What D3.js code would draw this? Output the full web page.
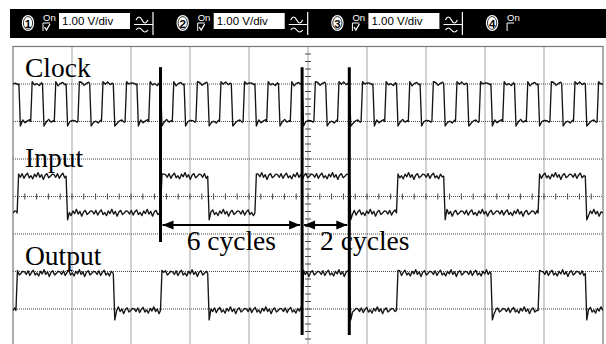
<!DOCTYPE html>
<html>
<head>
<meta charset="utf-8">
<script src="https://cdn.jsdelivr.net/npm/d3@7"></script>
<style>
  body { margin: 0; background: #fff; }
  svg { display: block; }
</style>
</head>
<body>
<svg id="scope" width="606" height="344"></svg>
<script>
// channel header
var channels = ["1", "2", "3", "4"];
var channelScale = ["1.00 V/div", "1.00 V/div", "1.00 V/div", null];

// edges in divisions (10 div across), levels in volts (screen position, 1 V/div)
var clockEdges = [0.1, 0.3, 0.5, 0.7, 0.9, 1.1, 1.3, 1.5, 1.7, 1.9, 2.1, 2.3, 2.5, 2.7, 2.9,
  3.1, 3.3, 3.5, 3.7, 3.9, 4.1, 4.3, 4.5, 4.7, 4.9, 5.1, 5.3, 5.5, 5.7, 5.9, 6.1, 6.3,
  6.5, 6.7, 6.9, 7.1, 7.3, 7.5, 7.7, 7.9, 8.1, 8.3, 8.5, 8.7, 8.9, 9.1, 9.3, 9.5, 9.7, 9.9];
var inputEdges = [0.07, 0.9, 2.5, 3.3, 4.1, 5.7, 6.5, 7.3, 8.9, 9.7];
var outputEdges = [0.05, 1.7, 2.5, 3.3, 4.9, 5.7, 6.5, 8.1, 8.9, 9.7];
var clockLevels = [2.0, 3.0];
var inputLevels = [-0.44, 0.54];
var outputLevels = [-3.04, -2.05];
// ripple on the flat parts (volts)
var ripple = [0.03, -0.02, 0.05, -0.04, 0.02, 0.06, -0.03, 0.01, -0.05, 0.04,
  -0.01, 0.07, -0.02, 0.03, -0.06, 0.02, 0.05, -0.03, 0.0, 0.04];

var labels = ["Clock", "Input", "Output"];
var markers = [2.5, 4.9, 5.7];
var spans = [{from: 2.5, to: 4.9, text: "6 cycles"}, {from: 4.9, to: 5.7, text: "2 cycles"}];

var svg = d3.select("#scope");
var x = d3.scaleLinear().domain([0, 10]).range([13, 603]);
var y = d3.scaleLinear().domain([-4, 4]).range([346.5, 46.5]);

// ---- header bar
svg.append("rect").attr("x", 10).attr("y", 9).attr("width", 596).attr("height", 29).attr("fill", "#000");

var head = svg.selectAll("g.ch").data(channels).enter().append("g")
  .attr("class", "ch")
  .attr("transform", function(d, i) { return "translate(" + (22 + i * 154.7) + ",0)"; });

head.append("ellipse").attr("cx", 6).attr("cy", 23).attr("rx", 6.2).attr("ry", 8).attr("fill", "#fff");
head.append("ellipse").attr("cx", 6).attr("cy", 23).attr("rx", 4.6).attr("ry", 6.4)
  .attr("fill", "none").attr("stroke", "#000").attr("stroke-width", 0.8);
head.append("text").attr("x", 6).attr("y", 27.5).attr("text-anchor", "middle")
  .attr("font-family", "Liberation Sans, Arial").attr("font-weight", "bold").attr("font-size", 11.5)
  .attr("fill", "#000").text(function(d) { return d; });
head.append("text").attr("x", 21).attr("y", 20.5)
  .attr("font-family", "Liberation Sans, Arial").attr("font-size", 9.5)
  .attr("fill", "#fff").text("On");
head.append("path").attr("d", "M21,31V23H28").attr("stroke", "#fff").attr("fill", "none");
head.filter(function(d, i) { return channelScale[i]; })
  .append("path").attr("d", "M22.5,27L24.5,30L28,24").attr("stroke", "#fff").attr("stroke-width", 1.3).attr("fill", "none");

var box = head.filter(function(d, i) { return channelScale[i]; });
box.append("rect").attr("x", 37).attr("y", 13).attr("width", 71).attr("height", 16).attr("fill", "#fff");
box.append("text").attr("x", 40).attr("y", 25)
  .attr("font-family", "Liberation Sans, Arial").attr("font-size", 11.5)
  .attr("fill", "#000").text(function(d, i) { return channelScale[channels.indexOf(d)]; });
box.append("path")
  .attr("d", "M114,20q3,-6 6,0t6,0 M114,30q3,-4 6,0t6,0 M112,24.5H131 M131,12V35")
  .attr("stroke", "#fff").attr("stroke-width", 1.2).attr("fill", "none");

// ---- graticule
var grid = svg.append("g");
grid.selectAll("line.v").data(d3.range(1, 10)).enter().append("line")
  .attr("x1", function(d) { return x(d); }).attr("x2", function(d) { return x(d); })
  .attr("y1", y(4)).attr("y2", y(-4));
grid.selectAll("line.h").data(d3.range(-3, 4)).enter().append("line")
  .attr("x1", x(0)).attr("x2", x(10))
  .attr("y1", function(d) { return y(d); }).attr("y2", function(d) { return y(d); });
grid.selectAll("line").attr("stroke", "#474747").attr("stroke-dasharray", "1,1").attr("stroke-width", 1);

var ticks = svg.append("g").attr("stroke", "#444").attr("stroke-width", 1);
ticks.selectAll("line.tx").data(d3.range(1, 50)).enter().append("line")
  .attr("x1", function(d) { return x(d / 5); }).attr("x2", function(d) { return x(d / 5); })
  .attr("y1", y(0) - 3).attr("y2", y(0) + 3);
ticks.selectAll("line.ty").data(d3.range(-19, 20)).enter().append("line")
  .attr("x1", x(5) - 3).attr("x2", x(5) + 3)
  .attr("y1", function(d) { return y(d / 5); }).attr("y2", function(d) { return y(d / 5); });

svg.append("rect").attr("x", x(0)).attr("y", y(4)).attr("width", x(10) - x(0)).attr("height", 320)
  .attr("fill", "none").attr("stroke", "#777").attr("stroke-width", 1.2);

// ---- traces
svg.append("clipPath").attr("id", "plot").append("rect")
  .attr("x", x(0)).attr("y", y(4)).attr("width", x(10) - x(0)).attr("height", 300);

var k = 0;
function trace(edges, startHigh, levels, step, under, over) {
  var pts = [], high = startHigh, bounds = [0].concat(edges, [10]);
  for (var i = 0; i < bounds.length - 1; i++) {
    var lvl = high ? levels[1] : levels[0];
    var a = i === 0 ? bounds[i] : bounds[i] + 0.025, b = bounds[i + 1];
    pts.push([a, lvl + (i === 0 ? 0 : (high ? over : -under))]);
    for (var t = a + step; t < b - 0.01; t += step) {
      pts.push([t, lvl + ripple[k % ripple.length] * (step < 0.035 ? 1.4 : 0.8)]);
      k++;
    }
    pts.push([b, lvl]);
    high = !high;
  }
  return pts;
}

var line = d3.line().x(function(d) { return x(d[0]); }).y(function(d) { return y(d[1]); });
var traces = [
  trace(clockEdges, true, clockLevels, 0.04, 0.12, 0.06),
  trace(inputEdges, false, inputLevels, 0.03, 0.18, 0.06),
  trace(outputEdges, false, outputLevels, 0.03, 0.25, 0.08)
];
svg.append("g").attr("clip-path", "url(#plot)")
  .selectAll("path").data(traces).enter().append("path")
  .attr("d", line).attr("fill", "none").attr("stroke", "#151515").attr("stroke-width", 1.35)
  .attr("stroke-linejoin", "round");

// ---- annotations
svg.selectAll("text.lab").data(labels).enter().append("text")
  .attr("x", 25).attr("y", function(d, i) { return [77, 167, 265][i]; })
  .attr("font-family", "Liberation Serif, Times New Roman, serif").attr("font-size", 27.5)
  .attr("fill", "#000").text(function(d) { return d; });

svg.selectAll("line.mark").data(markers).enter().append("line")
  .attr("x1", function(d) { return x(d); }).attr("x2", function(d) { return x(d); })
  .attr("y1", y(3.45)).attr("y2", function(d, i) { return i === 0 ? 242 : 335; })
  .attr("stroke", "#000").attr("stroke-width", 3);

var ay = 225;
var arr = svg.selectAll("g.span").data(spans).enter().append("g");
arr.append("line")
  .attr("x1", function(d) { return x(d.from) + 2; }).attr("x2", function(d) { return x(d.to) - 2; })
  .attr("y1", ay).attr("y2", ay).attr("stroke", "#000").attr("stroke-width", 2);
arr.append("path").attr("d", function(d) {
  var a = x(d.from) + 2, b = x(d.to) - 2;
  return "M" + a + "," + ay + "l11,-4.5v9z M" + b + "," + ay + "l-11,-4.5v9z";
}).attr("fill", "#000");
arr.append("text")
  .attr("x", function(d, i) { return i === 0 ? (x(d.from) + x(d.to)) / 2 : x(d.from) + 18; })
  .attr("y", 250)
  .attr("text-anchor", function(d, i) { return i === 0 ? "middle" : "start"; })
  .attr("font-family", "Liberation Serif, Times New Roman, serif").attr("font-size", 27.5)
  .attr("fill", "#000").text(function(d) { return d.text; });
</script>
</body>
</html>
